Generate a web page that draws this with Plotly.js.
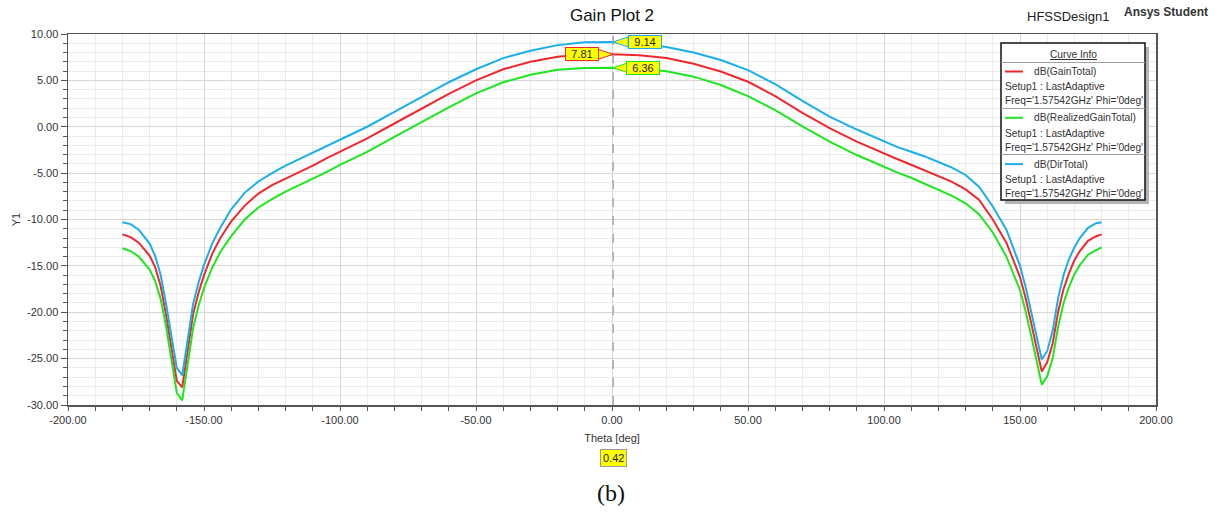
<!DOCTYPE html>
<html>
<head>
<meta charset="utf-8">
<script src="https://cdn.plot.ly/plotly-3.0.1.min.js"></script>
<style>html,body{margin:0;padding:0;background:#fff;}#chart{width:1218px;height:512px;}</style>
</head>
<body>
<div id="chart"></div>
<script>
// ---- data ----
const theta = [-180,-177,-174,-170,-168,-166,-164,-162,-160,-158,-156,-154,-152,-150,-147,-144,-140,-135,-130,-125,-120,-115,-110,-105,-100,-90,-80,-70,-60,-50,-40,-30,-20,-10,0,10,20,30,40,50,60,70,80,90,100,105,110,115,120,125,130,135,140,145,150,152,154,156,158,160,162,164,166,168,170,172,175,178,180];

const gainTotal = [-11.6,-11.9,-12.5,-13.9,-15.1,-17.1,-20.2,-23.8,-27.4,-28.1,-24.3,-20.2,-17.9,-16.0,-13.7,-12.0,-10.2,-8.5,-7.2,-6.3,-5.6,-4.9,-4.2,-3.4,-2.7,-1.25,0.35,1.95,3.55,5.0,6.2,7.0,7.55,7.78,7.81,7.72,7.4,6.8,5.95,4.85,3.3,1.5,-0.15,-1.6,-2.9,-3.5,-4.1,-4.7,-5.3,-5.95,-6.75,-7.9,-10.0,-12.5,-16.2,-18.4,-21.0,-23.8,-26.4,-25.4,-23.4,-20.0,-17.5,-15.8,-14.4,-13.4,-12.3,-11.8,-11.6];

const realizedGainTotal = [-13.1,-13.4,-14.0,-15.4,-16.6,-18.5,-21.4,-25.0,-28.7,-29.5,-25.8,-21.7,-19.3,-17.4,-15.2,-13.5,-11.8,-10.0,-8.7,-7.8,-7.0,-6.3,-5.6,-4.9,-4.1,-2.7,-1.1,0.5,2.1,3.6,4.8,5.6,6.15,6.33,6.36,6.27,5.98,5.4,4.5,3.3,1.8,0.05,-1.6,-3.05,-4.35,-4.95,-5.5,-6.15,-6.8,-7.45,-8.25,-9.45,-11.4,-14.0,-17.6,-19.8,-22.4,-25.2,-27.8,-26.9,-25.0,-21.6,-19.0,-17.3,-15.9,-14.9,-13.8,-13.3,-13.0];

const dirTotal = [-10.3,-10.5,-11.1,-12.6,-13.9,-15.9,-19.0,-22.7,-26.0,-26.8,-23.0,-19.1,-16.8,-14.9,-12.6,-10.9,-8.9,-7.1,-5.9,-5.0,-4.2,-3.5,-2.8,-2.1,-1.4,0.0,1.6,3.2,4.8,6.2,7.4,8.2,8.8,9.1,9.14,9.0,8.6,8.0,7.2,6.1,4.6,2.8,1.1,-0.3,-1.6,-2.2,-2.7,-3.2,-3.8,-4.4,-5.2,-6.5,-8.6,-11.1,-15.0,-17.2,-19.8,-22.6,-25.1,-24.2,-22.0,-18.5,-16.0,-14.3,-13.0,-12.0,-10.9,-10.4,-10.3];

const seriesNames = ["dB(GainTotal)", "dB(RealizedGainTotal)", "dB(DirTotal)"];
const seriesColors = ["#f0282d", "#1ee61e", "#1aaeef"];
const setupLine = "Setup1 : LastAdaptive";
const freqLine = "Freq='1.57542GHz' Phi='0deg'";

const markerTheta = 0.42;
const markerLabels = ["7.81", "6.36", "9.14"];
const markerValues = [7.81, 6.36, 9.14];

const xTickVals = [-200,-150,-100,-50,0,50,100,150,200];
const yTickVals = [-30,-25,-20,-15,-10,-5,0,5,10];
const xTickText = xTickVals.map(v => v.toFixed(2));
const yTickText = yTickVals.map(v => v.toFixed(2));

// ---- layout helpers (pixel -> paper) ----
const L = 68, R = 62, T = 34, B = 107, W = 1218, H = 512;
const PW = W - L - R, PH = H - T - B;
const PX = p => (p - L) / PW;
const PY = p => (H - B - p) / PH;

const FONT = "Liberation Sans, Arial, sans-serif";
const allSeries = [gainTotal, realizedGainTotal, dirTotal];

const traces = allSeries.map((ys, i) => ({
  x: theta, y: ys, type: "scatter", mode: "lines",
  name: seriesNames[i], line: {color: seriesColors[i], width: 2},
  hoverinfo: "skip"
}));

const shapes = [];
const annotations = [];

// vertical marker line
shapes.push({type: "line", xref: "x", yref: "paper", x0: markerTheta, x1: markerTheta, y0: 0, y1: 1,
  line: {color: "#a8a8a8", width: 1.5, dash: "dash"}, layer: "above"});

// marker callouts
const markerOffsets = [-31, 30, 32];
markerValues.forEach((v, i) => {
  const dir = Math.sign(markerOffsets[i]);
  shapes.push({type: "path", xref: "x", yref: "y", xsizemode: "pixel", ysizemode: "pixel",
    xanchor: markerTheta, yanchor: v,
    path: `M 0 0 L ${15*dir} 5 L ${15*dir} -5 Z`,
    fillcolor: "#ffff00", line: {color: seriesColors[i], width: 1}, layer: "above"});
  annotations.push({x: markerTheta, y: v, xref: "x", yref: "y", text: markerLabels[i],
    showarrow: true, arrowcolor: "rgba(0,0,0,0)", ax: markerOffsets[i], ay: 0,
    bgcolor: "#ffff00", bordercolor: seriesColors[i], borderwidth: 1, borderpad: 1,
    width: 30, height: 10, font: {family: FONT, size: 11, color: "#222"}});
});

function txt(px, py, text, opts) {
  annotations.push(Object.assign({xref: "paper", yref: "paper", x: PX(px), y: PY(py), text: text,
    showarrow: false, xanchor: "center", yanchor: "middle"}, opts));
}

// x marker value box
annotations.push({x: markerTheta, xref: "x", y: PY(458), yref: "paper", yanchor: "middle", xanchor: "center",
  text: "0.42", showarrow: false,
  bgcolor: "#ffff00", bordercolor: "#9a9a9a", borderwidth: 1, borderpad: 2,
  font: {family: FONT, size: 11, color: "#222"}});

// legend box ("Curve Info")
const lgL = 1001, lgR = 1145, lgT = 43, lgB = 200;
shapes.push({type: "rect", xref: "paper", yref: "paper", x0: PX(lgL + 4), x1: PX(lgR + 4), y0: PY(lgB + 4), y1: PY(lgT + 4),
  fillcolor: "#b4b4b4", line: {width: 0}, layer: "above"});
shapes.push({type: "rect", xref: "paper", yref: "paper", x0: PX(lgL), x1: PX(lgR), y0: PY(lgB), y1: PY(lgT),
  fillcolor: "#ffffff", line: {color: "#111", width: 1.5}, layer: "above"});
const LF = {family: FONT, size: 10.2, color: "#333"};
txt((lgL + lgR) / 2, 54, "<u>Curve Info</u>", {font: LF});
const sepY = [62.5, 108.5, 154.5];
sepY.forEach(y => shapes.push({type: "line", xref: "paper", yref: "paper", x0: PX(lgL), x1: PX(lgR), y0: PY(y), y1: PY(y),
  line: {color: "#a0a0a0", width: 1}, layer: "above"}));
seriesNames.forEach((nm, i) => {
  const top = 71.5 + i * 46.3;
  shapes.push({type: "line", xref: "paper", yref: "paper", x0: PX(1005), x1: PX(1023), y0: PY(top), y1: PY(top),
    line: {color: seriesColors[i], width: 2}, layer: "above"});
  txt(1032, top, nm, {xanchor: "left", font: LF});
  txt(1003, top + 15.3, setupLine, {xanchor: "left", font: LF});
  txt(1003, top + 29.3, freqLine, {xanchor: "left", font: LF});
});

// header texts
txt(1068, 16, "HFSSDesign1", {font: {family: FONT, size: 13, color: "#222"}});
txt(1166, 12.5, "<b>Ansys Student</b>", {font: {family: FONT, size: 12, color: "#333"}});
// caption
txt(611, 493, "(b)", {font: {family: "Liberation Serif, DejaVu Serif, serif", size: 24, color: "#111"}});

const layout = {
  width: W, height: H,
  margin: {l: L, r: R, t: T, b: B, pad: 0},
  paper_bgcolor: "#ffffff", plot_bgcolor: "#ffffff",
  showlegend: false,
  title: {text: "Gain Plot 2", x: 0.5, xref: "paper", xanchor: "center", y: 1 - 15 / H, yanchor: "middle",
    font: {family: FONT, size: 17, color: "#111"}},
  xaxis: {
    range: [-200, 200], tickmode: "array", tickvals: xTickVals, ticktext: xTickText,
    ticks: "outside", ticklen: 4, tickcolor: "#555",
    showgrid: true, gridcolor: "#d6d6d6", gridwidth: 1,
    minor: {dtick: 10, showgrid: true, gridcolor: "#ebebeb", ticks: "outside", ticklen: 4, tickcolor: "#555"},
    zeroline: false, showline: true, linecolor: "#555", linewidth: 1.5, mirror: true,
    tickfont: {family: FONT, size: 11, color: "#333"},
    title: {text: "Theta [deg]", standoff: 9, font: {family: FONT, size: 11, color: "#333"}},
    fixedrange: true
  },
  yaxis: {
    range: [-30, 10], tickmode: "array", tickvals: yTickVals, ticktext: yTickText,
    ticks: "outside", ticklen: 6, tickcolor: "#555",
    showgrid: true, gridcolor: "#d6d6d6", gridwidth: 1,
    minor: {dtick: 1, showgrid: true, gridcolor: "#ececec", ticks: "outside", ticklen: 4, tickcolor: "#555"},
    zeroline: false, showline: true, linecolor: "#555", linewidth: 1.5, mirror: true,
    tickfont: {family: FONT, size: 11, color: "#333"},
    title: {text: "Y1", standoff: 4, font: {family: FONT, size: 11, color: "#333"}},
    fixedrange: true
  },
  shapes: shapes,
  annotations: annotations
};

Plotly.newPlot("chart", traces, layout, {displayModeBar: false, staticPlot: true});
</script>
</body>
</html>
